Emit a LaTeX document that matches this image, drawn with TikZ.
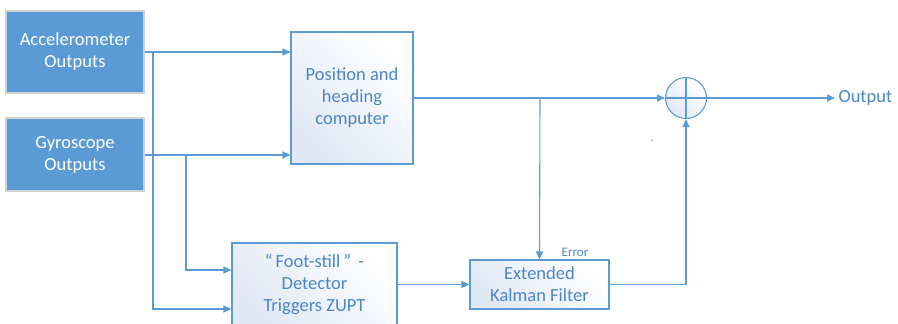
\documentclass[tikz,border=0pt]{standalone}
\usepackage{fontspec}
\setmainfont{Carlito}
\usetikzlibrary{arrows.meta}

\definecolor{boxblue}{RGB}{91,155,213}
\definecolor{txtblue}{RGB}{74,134,200}
\definecolor{boxtint}{RGB}{224,232,245}

\begin{document}
\begin{tikzpicture}[x=1pt, y=-1pt, >={Triangle[length=8pt,width=7pt]},
  line/.style={draw=boxblue, line width=1.1pt},
  sensor/.style={fill=boxblue, draw=black!18, line width=1.6pt, text=white,
    align=center, font=\fontsize{18.5}{22}\selectfont, inner sep=0pt},
  block/.style={draw=boxblue, line width=1.1pt, text=txtblue, align=center,
    font=\fontsize{18.5}{22}\selectfont, inner sep=0pt,
    top color=white, bottom color=boxtint, shading angle=-45}]
  \useasboundingbox (0,0) rectangle (898,324);
  \clip (0,0) rectangle (898,324);

  % sensors
  \node[sensor, minimum width=138pt, minimum height=82pt] (acc) at (75,52)
    {Accelerometer\\Outputs};
  \node[sensor, minimum width=138pt, minimum height=73pt] (gyr) at (75,154.5)
    {Gyroscope\\Outputs};

  % processing blocks
  \node[block, minimum width=122pt, minimum height=132pt] (pos) at (352,98)
    {Position and\\heading\\computer};
  \node[block, minimum width=165pt, minimum height=82pt] (det) at (314.5,284)
    {“\,Foot-still\,”\, -\\Detector\\Triggers ZUPT};
  \node[block, minimum width=139pt, minimum height=49pt] (ekf) at (539.5,284.5)
    {Extended\\Kalman Filter};
  \node[block, circle, minimum size=41pt] (sum) at (686,98) {};
  \draw[line] (sum.north) -- (sum.south) (sum.west) -- (sum.east);

  \node[text=txtblue, font=\fontsize{18.5}{22}\selectfont, anchor=west] (out)
    at (835,98) {Output};
  \node[text=txtblue, font=\fontsize{13}{15}\selectfont] (err) at (575,252) {Error};
  \node[text=txtblue, font=\fontsize{10}{12}\selectfont] (minus) at (652,142) {-};

  % branch points
  \coordinate (ja) at (153,52);
  \coordinate (jg) at (186,155);
  \coordinate (jp) at (540,98);

  % connectors
  \draw[line, ->] (acc.east) -- (acc.east -| pos.west);
  \draw[line, ->] (gyr.east |- jg) -- (jg -| pos.west);
  \draw[line, ->] (ja) -- (ja |- 0,309) -- (det.west |- 0,309);
  \draw[line, ->] (jg) -- (jg |- 0,270) -- (det.west |- 0,270);
  \draw[line, ->] (pos.east) -- (sum.west);
  \draw[line, ->] (jp) -- (ekf.north);
  \draw[line, ->] (det.east |- ekf.west) -- (ekf.west);
  \draw[line, ->] (ekf.east) -- (ekf.east -| sum.south) -- (sum.south);
  \draw[line, ->] (sum.east) -- (out.west);
\end{tikzpicture}
\end{document}
